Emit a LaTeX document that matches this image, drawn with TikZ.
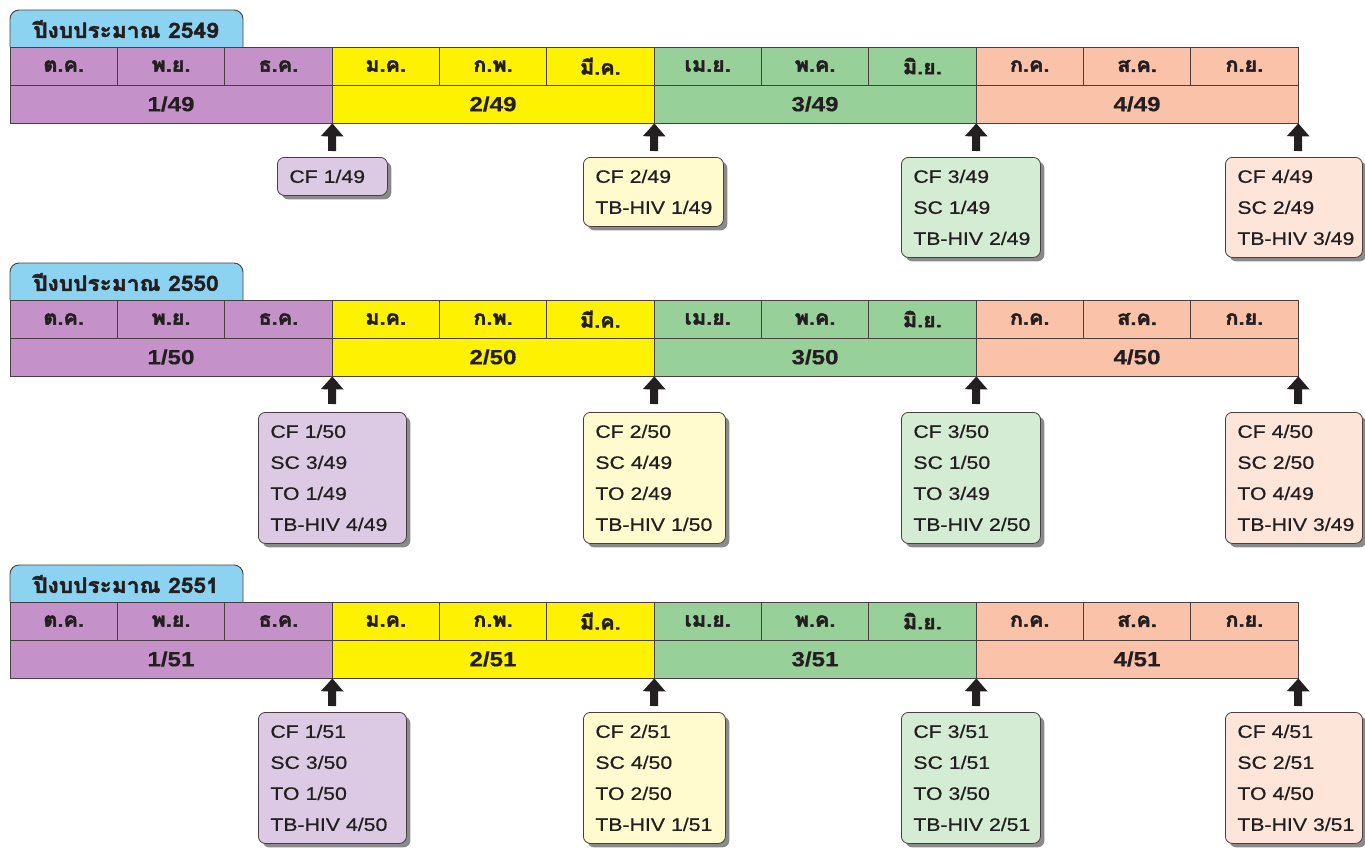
\documentclass[tikz,border=0pt]{standalone}
\usepackage{fontspec}
\setmainfont{Liberation Sans}
\newfontfamily\thaifont[Script=Thai,FakeBold=2.2,FakeStretch=1.08]{Loma}
\newfontfamily\boxfont[FakeStretch=1.18,FakeBold=0.6]{Liberation Sans}
\newfontfamily\qfont[FakeStretch=1.18,FakeBold=0.5]{Liberation Sans Bold}
\usetikzlibrary{arrows.meta,shadows}
\newcommand\evl[1]{\mbox{#1}}
\definecolor{tabblue}{HTML}{8CD3F1}
\definecolor{cpurple}{HTML}{C492C8}
\definecolor{cyellow}{HTML}{FFF200}
\definecolor{cgreen}{HTML}{98D09A}
\definecolor{csalmon}{HTML}{FBC2AA}
\definecolor{lpurple}{HTML}{DCCAE5}
\definecolor{lyellow}{HTML}{FFFBCF}
\definecolor{lgreen}{HTML}{D3ECD3}
\definecolor{lsalmon}{HTML}{FDE5DA}
\definecolor{linec}{HTML}{4A3E40}
\definecolor{textc}{HTML}{231F20}
\definecolor{shadowc}{HTML}{8A8A8A}
\definecolor{arrowc}{HTML}{231F20}
\begin{document}
\begin{tikzpicture}[x=1pt,y=-1pt,
  tabshape/.style={fill=tabblue, draw=linec, line width=0.9pt, rounded corners=9pt},
  tabtext/.style={inner sep=0pt, text=textc, font=\thaifont\bfseries\fontsize{21}{21}\selectfont},
  mcell/.style={draw=linec, line width=0.7pt, minimum width=107.333pt, minimum height=38pt, inner sep=0pt, text=textc, font=\thaifont\bfseries\fontsize{20}{20}\selectfont},
  qcell/.style={draw=linec, line width=0.7pt, minimum width=322pt, minimum height=38pt, inner sep=0pt, text=textc, font=\qfont\fontsize{20.5}{20.5}\selectfont},
  evbox/.style 2 args={draw=linec, line width=0.8pt, rounded corners=7pt, anchor=north west, align=left, inner xsep=12pt, inner ysep=0pt, text width=#1pt, minimum height=#2pt, text=textc, font=\boxfont\fontsize{18}{31}\selectfont, drop shadow={shadow xshift=4pt, shadow yshift=-4pt, fill=shadowc, opacity=1}},
  uparrow/.style={-{Triangle[width=22pt,length=13pt]}, line width=8pt, draw=arrowc}
]
\useasboundingbox (0,0) rectangle (1365,855);
\foreach \b/\T/\yr/\yy in {1/47/2549/49, 2/300/2550/50, 3/602/2551/51}{
  \filldraw[tabshape] (10,\T) -- (10,\T-37) -- (243,\T-37) -- (243,\T);
  \node[tabtext] (tab\b) at (126,\T-18) {ปีงบประมาณ \yr};
  \foreach \i/\lab/\col in {0/ต.ค./cpurple, 1/พ.ย./cpurple, 2/ธ.ค./cpurple,
      3/ม.ค./cyellow, 4/ก.พ./cyellow, 5/มี.ค./cyellow,
      6/เม.ย./cgreen, 7/พ.ค./cgreen, 8/มิ.ย./cgreen,
      9/ก.ค./csalmon, 10/ส.ค./csalmon, 11/ก.ย./csalmon}{
    \node[mcell, fill=\col] (m\b-\i) at ({10+107.333*(\i+0.5)},\T+19) {\lab};
  }
  \foreach \q/\col in {1/cpurple, 2/cyellow, 3/cgreen, 4/csalmon}{
    \node[qcell, fill=\col] (q\b-\q) at ({10+322*(\q-0.5)},\T+57) {\q/\yy};
    \coordinate (a\b-\q) at ({10+322*\q},\T+104);
    \draw[uparrow] (a\b-\q) -- (q\b-\q.south east);
  }
}
% block 2549
\node[evbox={86}{38}, fill=lpurple] (b1-1) at (277,157) {\evl{CF 1/49}};
\node[evbox={116}{69}, fill=lyellow] (b1-2) at (583,157) {\evl{CF 2/49}\\\evl{TB-HIV 1/49}};
\node[evbox={115}{100}, fill=lgreen] (b1-3) at (901,157) {\evl{CF 3/49}\\\evl{SC 1/49}\\\evl{TB-HIV 2/49}};
\node[evbox={113}{100}, fill=lsalmon] (b1-4) at (1225,157) {\evl{CF 4/49}\\\evl{SC 2/49}\\\evl{TB-HIV 3/49}};
% block 2550
\node[evbox={124}{131}, fill=lpurple] (b2-1) at (258,412) {\evl{CF 1/50}\\\evl{SC 3/49}\\\evl{TO 1/49}\\\evl{TB-HIV 4/49}};
\node[evbox={118}{131}, fill=lyellow] (b2-2) at (583,412) {\evl{CF 2/50}\\\evl{SC 4/49}\\\evl{TO 2/49}\\\evl{TB-HIV 1/50}};
\node[evbox={115}{131}, fill=lgreen] (b2-3) at (901,412) {\evl{CF 3/50}\\\evl{SC 1/50}\\\evl{TO 3/49}\\\evl{TB-HIV 2/50}};
\node[evbox={113}{131}, fill=lsalmon] (b2-4) at (1225,412) {\evl{CF 4/50}\\\evl{SC 2/50}\\\evl{TO 4/49}\\\evl{TB-HIV 3/49}};
% block 2551
\node[evbox={124}{131}, fill=lpurple] (b3-1) at (258,712) {\evl{CF 1/51}\\\evl{SC 3/50}\\\evl{TO 1/50}\\\evl{TB-HIV 4/50}};
\node[evbox={118}{131}, fill=lyellow] (b3-2) at (583,712) {\evl{CF 2/51}\\\evl{SC 4/50}\\\evl{TO 2/50}\\\evl{TB-HIV 1/51}};
\node[evbox={115}{131}, fill=lgreen] (b3-3) at (901,712) {\evl{CF 3/51}\\\evl{SC 1/51}\\\evl{TO 3/50}\\\evl{TB-HIV 2/51}};
\node[evbox={113}{131}, fill=lsalmon] (b3-4) at (1225,712) {\evl{CF 4/51}\\\evl{SC 2/51}\\\evl{TO 4/50}\\\evl{TB-HIV 3/51}};
\end{tikzpicture}
\end{document}
